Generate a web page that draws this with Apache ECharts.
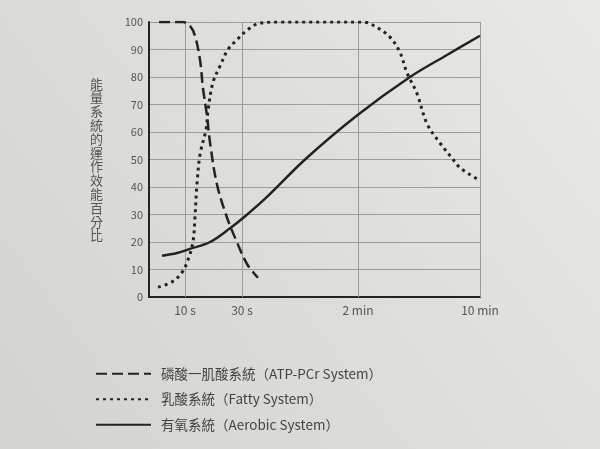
<!DOCTYPE html>
<html>
<head>
<meta charset="utf-8">
<script src="https://cdn.jsdelivr.net/npm/echarts@6/dist/echarts.min.js"></script>
<style>html,body{margin:0;padding:0;}#c{width:600px;height:449px;}</style>
</head>
<body>
<div id="c"></div>
<script>
// Tick labels on the time axis
const xTickSeconds = [10, 30, 120, 600];
const xTickLabels = ['10 s', '30 s', '2 min', '10 min'];
const yTicks = [0, 10, 20, 30, 40, 50, 60, 70, 80, 90, 100];

// Series names
const seriesNames = ['磷酸一肌酸系統（ATP-PCr System）', '乳酸系統（Fatty System）', '有氧系統（Aerobic System）'];

// ATP-PCr (dashed) : time in seconds, efficiency %
const atpSec = [2.8, 9.4, 11.8, 13.5, 15.3, 16.3, 17.7, 18.8, 21.2, 24.7, 28.2, 33.9, 42.4];
const atpVal = [100, 100, 98.5, 95, 86, 76, 66, 56, 41, 29, 20, 12, 7];

// Fatty (dotted)
const fatSec = [2.5, 6.4, 9.2, 11.05, 12.8, 13.5, 14.2, 15.3, 17.4, 18.1, 19.8, 22.3, 25.1, 28.2, 33.9, 43.9, 59.5, 139.7, 194.8, 245.9, 285, 312.8, 352, 391.5, 442.6, 489.8, 521.3, 588];
const fatVal = [3.6, 5.5, 9, 13.5, 20, 29, 41, 52, 61, 68, 78, 84, 90, 93.5, 97, 99.6, 100, 100, 98, 94.5, 89, 81.5, 74, 63, 56, 50.5, 47, 43];

// Aerobic (solid)
const aerSec = [3.6, 7.8, 11.75, 18.8, 25.8, 30.8, 49.4, 78.9, 119.2, 324.6, 470, 600];
const aerVal = [15, 16, 17.5, 20, 25, 28.7, 36.4, 50, 66, 80, 88, 95];

// Non-linear time scale of the printed chart (seconds -> axis units)
const scaleSec = [0, 10, 30, 120, 600];
const scalePos = [0, 36, 93, 209, 331];
function toAxis(s) {
  for (let i = 1; i < scaleSec.length; i++) {
    if (s <= scaleSec[i]) {
      const t = (s - scaleSec[i - 1]) / (scaleSec[i] - scaleSec[i - 1]);
      return scalePos[i - 1] + t * (scalePos[i] - scalePos[i - 1]);
    }
  }
  return scalePos[scalePos.length - 1];
}
const pairs = (xs, ys) => xs.map((s, i) => [toAxis(s), ys[i]]);
const tickPos = xTickSeconds.map(toAxis);

const chart = echarts.init(document.getElementById('c'));
const ink = '#232323';
const font = '"Noto Sans CJK TC", "Noto Sans", sans-serif';

chart.setOption({
  backgroundColor: {
    type: 'linear', x: 0, y: 1, x2: 1, y2: 0,
    colorStops: [{ offset: 0, color: '#d3d3d0' }, { offset: 0.6, color: '#dfdfdc' }, { offset: 1, color: '#e9e9e7' }]
  },
  animation: false,
  textStyle: { fontFamily: font },
  grid: { left: 149, right: 120, top: 22, bottom: 152, containLabel: false },
  legend: {
    orient: 'vertical', left: 90, top: 362, itemGap: 12, itemWidth: 55, itemHeight: 14,
    itemStyle: { opacity: 0 },
    textStyle: { color: '#444', fontSize: 13.5, fontFamily: font, padding: [0, 0, 0, 5] },
    data: seriesNames
  },
  xAxis: {
    type: 'value', min: 0, max: scalePos[scalePos.length - 1],
    axisLine: { show: true, onZero: false, lineStyle: { color: ink, width: 2 } },
    axisTick: { show: false },
    splitLine: { show: false },
    axisLabel: {
      customValues: tickPos, color: '#555', fontSize: 12, margin: 7,
      formatter: v => { const i = tickPos.findIndex(p => Math.abs(p - v) < 0.01); return i >= 0 ? xTickLabels[i] : ''; }
    }
  },
  yAxis: {
    type: 'value', min: 0, max: 100, interval: 10,
    name: '能量系統的運作效能百分比'.split('').join('\n'),
    nameLocation: 'middle', nameRotate: 0, nameGap: 46,
    nameTextStyle: { color: '#555', fontSize: 13, lineHeight: 13.8, fontFamily: font },
    axisLine: { show: true, lineStyle: { color: ink, width: 2 } },
    axisTick: { show: false },
    axisLabel: { color: '#555', fontSize: 11, margin: 6, customValues: yTicks },
    splitLine: { show: true, lineStyle: { color: '#9c9c9c', width: 1 } }
  },
  series: [
    {
      name: seriesNames[0], type: 'line', data: pairs(atpSec, atpVal), smooth: 0.35,
      symbol: 'none', lineStyle: { color: ink, width: 2.5, type: [11, 5] }, itemStyle: { color: ink },
      z: 3,
      markLine: {
        silent: true, symbol: 'none', label: { show: false },
        lineStyle: { color: '#9c9c9c', width: 1, type: 'solid' },
        data: tickPos.map(p => ({ xAxis: p })), z: 1
      }
    },
    {
      name: seriesNames[1], type: 'line', data: pairs(fatSec, fatVal), smooth: 0.35,
      symbol: 'none', lineStyle: { color: ink, width: 3, type: [3, 4] }, itemStyle: { color: ink }, z: 3
    },
    {
      name: seriesNames[2], type: 'line', data: pairs(aerSec, aerVal), smooth: 0.35,
      symbol: 'none', lineStyle: { color: ink, width: 2.5, type: 'solid' }, itemStyle: { color: ink }, z: 3
    }
  ]
});
</script>
</body>
</html>
